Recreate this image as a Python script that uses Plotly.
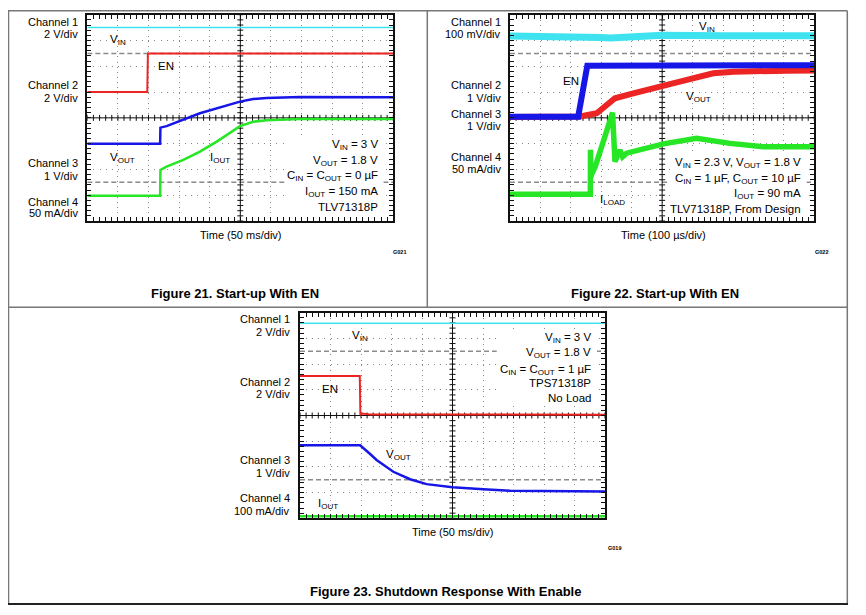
import numpy as np
import plotly.graph_objects as go

# page body margin is 8px: the figure div starts at (8, 8) in the window
OFF = 8
W, H = 866 - OFF, 615 - OFF
FONT = "Liberation Sans, Arial, sans-serif"

# ---------------- Figure 21: Start-up with EN (time in ms, traces in screen divisions) ----------------
f21_vin_t = [0, 500]
f21_vin = [7.5, 7.5]
f21_en_t = [0, 98, 99, 500]
f21_en = [5.0, 5.0, 6.5, 6.5]
f21_vout_t = [0, 119, 119.5, 129.5, 184, 211.5, 238.5, 249.5, 271, 293, 347.5, 500]
f21_vout = [3.0, 3.0, 3.62, 3.68, 4.18, 4.37, 4.56, 4.63, 4.73, 4.77, 4.81, 4.80]
f21_iout_t = [0, 119, 119.5, 129.5, 157, 184, 211.5, 238.5, 249.5, 271, 293, 347.5, 500]
f21_iout = [0.98, 0.98, 1.98, 2.11, 2.37, 2.69, 3.08, 3.53, 3.68, 3.85, 3.91, 3.96, 3.96]
f21_refs = [6.5, 1.5]

# ---------------- Figure 22: Start-up with EN (time in us) ----------------
f22_vin_t = [0, 250, 300, 330, 370, 420, 500, 700, 1000]
f22_vin = [7.17, 7.17, 7.12, 7.10, 7.12, 7.16, 7.20, 7.18, 7.18]
f22_en_t = [0, 224, 254, 1000]
f22_en = [4.04, 4.04, 6.02, 6.04]
f22_vout_t = [0, 230, 285, 318, 345, 405, 493, 581, 668, 734, 909, 1000]
f22_vout = [4.03, 4.05, 4.18, 4.46, 4.76, 4.95, 5.24, 5.47, 5.73, 5.79, 5.83, 5.84]
f22_iload_t = [0, 264, 264.5, 265.5, 268, 280, 290, 307, 337, 345, 361, 370, 383, 504, 613, 723, 832, 1000]
f22_iload = [1.04, 1.04, 2.76, 1.70, 1.80, 2.10, 2.50, 3.10, 4.20, 2.30, 2.75, 2.49, 2.63, 2.99, 3.21, 3.01, 2.88, 2.88]
f22_refs = [6.5, 1.5]

# ---------------- Figure 23: Shutdown response with enable (time in ms) ----------------
f23_vin_t = [0, 500]
f23_vin = [7.59, 7.59]
f23_en_t = [0, 98, 99, 102, 115, 500]
f23_en = [5.54, 5.54, 4.02, 4.08, 4.04, 4.03]
f23_vout_t = [0, 98.5, 115, 125.5, 153, 180.5, 207.5, 250, 300.5, 344.5, 500]
f23_vout = [2.84, 2.84, 2.50, 2.27, 1.81, 1.52, 1.33, 1.21, 1.13, 1.07, 1.04]
f23_iout_t = [0, 500]
f23_iout = [0.08, 0.08]
f23_refs = [6.5, 1.5]

CYAN, RED, BLUE, GREEN = "#3ee3ef", "#ec2424", "#1616e6", "#26e626"

# plot areas in window pixels
P = {
    1: dict(x0=87.3, x1=393.3, y0=14.7, y1=221.0, tmax=500),
    2: dict(x0=510.0, x1=814.3, y0=14.7, y1=221.0, tmax=1000),
    3: dict(x0=300.0, x1=605.0, y0=312.7, y1=518.3, tmax=500),
}


def px(x):
    return (x - OFF) / W


def py(y):
    return 1 - (y - OFF) / H


def dx(n, xp):
    p = P[n]
    return (xp - p["x0"]) / (p["x1"] - p["x0"]) * p["tmax"]


def dy(n, yp):
    p = P[n]
    return 8 * (p["y1"] - yp) / (p["y1"] - p["y0"])


fig = go.Figure()


def sfx(n):
    return "" if n == 1 else str(n)


def crosshair(n):
    p = P[n]
    tmax = p["tmax"]
    upx = (p["x1"] - p["x0"]) / tmax
    upy = (p["y1"] - p["y0"]) / 8
    hx, hy = 3 / upx, 3 / upy
    xs = [tmax / 2, tmax / 2, None, 0, tmax, None]
    ys = [0, 8, None, 4, 4, None]
    for t in np.arange(0, tmax + 1e-9, tmax / 50):
        xs += [t, t, None]
        ys += [4 - hy, 4 + hy, None]
    for v in np.arange(0, 8 + 1e-9, 0.2):
        xs += [tmax / 2 - hx, tmax / 2 + hx, None]
        ys += [v, v, None]
    fig.add_trace(go.Scatter(x=xs, y=ys, mode="lines", line=dict(color="#111", width=1),
                             xaxis="x" + sfx(n), yaxis="y" + sfx(n), hoverinfo="skip"))


def trace(n, t, v, color, width):
    fig.add_trace(go.Scatter(x=t, y=v, mode="lines", line=dict(color=color, width=width),
                             xaxis="x" + sfx(n), yaxis="y" + sfx(n)))


for n in (1, 2, 3):
    crosshair(n)

trace(1, f21_vin_t, f21_vin, CYAN, 1.5)
trace(1, f21_en_t, f21_en, RED, 2)
trace(1, f21_vout_t, f21_vout, BLUE, 2.5)
trace(1, f21_iout_t, f21_iout, GREEN, 2.5)

trace(2, f22_vin_t, f22_vin, CYAN, 7)
trace(2, f22_vout_t, f22_vout, RED, 6)
trace(2, f22_en_t, f22_en, BLUE, 6)
trace(2, f22_iload_t, f22_iload, GREEN, 5.5)

trace(3, f23_vin_t, f23_vin, CYAN, 1.5)
trace(3, f23_en_t, f23_en, RED, 2)
trace(3, f23_vout_t, f23_vout, BLUE, 2.5)
trace(3, f23_iout_t, f23_iout, GREEN, 2.5)

# ---------------- axes ----------------
layout_axes = {}
for n, p in P.items():
    s = sfx(n)
    tmax = p["tmax"]
    common = dict(showline=True, linecolor="#111", linewidth=2, mirror="ticks",
                  ticks="inside", ticklen=4, tickcolor="#111", tickwidth=1,
                  showticklabels=False, zeroline=False, showgrid=True,
                  gridcolor="#8a8a8a", gridwidth=1, fixedrange=True)
    layout_axes["xaxis" + s] = dict(common, domain=[px(p["x0"]), px(p["x1"])], range=[0, tmax],
                                    dtick=tmax / 10, tick0=0, anchor="y" + s, griddash="1px,4.2px",
                                    minor=dict(dtick=tmax / 50, tick0=0, ticks="inside", ticklen=4,
                                               tickcolor="#111", showgrid=False))
    layout_axes["yaxis" + s] = dict(common, domain=[py(p["y1"]), py(p["y0"])], range=[0, 8],
                                    dtick=1, tick0=0, anchor="x" + s, griddash="1px,5.1px",
                                    minor=dict(dtick=0.2, tick0=0, ticks="inside", ticklen=4,
                                               tickcolor="#111", showgrid=False))

shapes = []


def dashed(n, level):
    s = sfx(n)
    shapes.append(dict(type="line", xref="x" + s, yref="y" + s, x0=0, x1=P[n]["tmax"], y0=level, y1=level,
                       line=dict(color="#8c8c8c", width=1.5, dash="5px,3px"), layer="between"))


def whitebox(n, xa, xb, ya, yb):
    s = sfx(n)
    shapes.append(dict(type="rect", xref="x" + s, yref="y" + s, x0=dx(n, xa), x1=dx(n, xb),
                       y0=dy(n, yb), y1=dy(n, ya), fillcolor="white", line=dict(width=0), layer="between"))


for lv in f21_refs:
    dashed(1, lv)
for lv in f22_refs:
    dashed(2, lv)
for lv in f23_refs:
    dashed(3, lv)
whitebox(1, 286.7, 383.3, 136.5, 214.0)
whitebox(2, 670.0, 806.7, 154.0, 215.5)
whitebox(3, 496.7, 597.0, 329.5, 405.0)

# page frame


def pline(xa, ya, xb, yb, color="#777", width=1.5):
    shapes.append(dict(type="line", xref="paper", yref="paper", x0=px(xa), x1=px(xb), y0=py(ya), y1=py(yb),
                       line=dict(color=color, width=width), layer="above"))


pline(8, 10.7, 847.3, 10.7)
pline(8.5, 10.7, 8.5, 604)
pline(847.3, 10.7, 847.3, 604)
pline(427.3, 10.7, 427.3, 307.3)
pline(8, 307.3, 847.3, 307.3)
pline(8, 604, 848, 604, color="#222", width=2)

# ---------------- annotations ----------------
anns = []


def ann(text, x, y, size=11, xanchor="center", bold=False, color="#000"):
    if bold:
        text = "<b>" + text + "</b>"
    anns.append(dict(text=text, x=px(x), y=py(y), xref="paper", yref="paper", xanchor=xanchor,
                     yanchor="middle", showarrow=False, font=dict(family=FONT, size=size, color=color)))


# channel labels
for txt, x, y in [
    ("Channel 1", 80, 21.7), ("2 V/div", 80, 34.3), ("Channel 2", 80, 85), ("2 V/div", 80, 97.7),
    ("Channel 3", 80, 163.3), ("1 V/div", 80, 175.7), ("Channel 4", 80, 201.7), ("50 mA/div", 80, 213.3),
    ("Channel 1", 502.7, 22.3), ("100 mV/div", 502.7, 34.3), ("Channel 2", 502.7, 85), ("1 V/div", 502.7, 97.7),
    ("Channel 3", 502.7, 114), ("1 V/div", 502.7, 126), ("Channel 4", 502.7, 156.7), ("50 mA/div", 502.7, 169.3),
    ("Channel 1", 291.7, 319), ("2 V/div", 291.7, 332.3), ("Channel 2", 291.7, 381.7), ("2 V/div", 291.7, 394.3),
    ("Channel 3", 291.7, 460), ("1 V/div", 291.7, 472.7), ("Channel 4", 291.7, 498.3), ("100 mA/div", 291.7, 511),
]:
    ann(txt, x, y, xanchor="right")

# signal labels
for txt, x, y in [
    ("V<sub>IN</sub>", 118, 40), ("EN", 166, 66), ("V<sub>OUT</sub>", 122, 158), ("I<sub>OUT</sub>", 220, 158),
    ("V<sub>IN</sub>", 707, 27), ("EN", 571, 81), ("V<sub>OUT</sub>", 698, 97), ("I<sub>LOAD</sub>", 612, 200),
    ("V<sub>IN</sub>", 360, 336), ("EN", 330, 389.3), ("V<sub>OUT</sub>", 398, 455), ("I<sub>OUT</sub>", 328, 504),
]:
    ann(txt, x, y, size=11.5)

# condition text blocks (right aligned)
for txt, x, y in [
    ("V<sub>IN</sub> = 3 V", 380, 145), ("V<sub>OUT</sub> = 1.8 V", 380, 160.5),
    ("C<sub>IN</sub> = C<sub>OUT</sub> = 0 µF", 380, 176), ("I<sub>OUT</sub> = 150 mA", 380, 192), ("TLV71318P", 380, 207),
    ("V<sub>IN</sub> = 2.3 V, V<sub>OUT</sub> = 1.8 V", 802.7, 163.3), ("C<sub>IN</sub> = 1 µF, C<sub>OUT</sub> = 10 µF", 802.7, 179),
    ("I<sub>OUT</sub> = 90 mA", 802.7, 194), ("TLV71318P, From Design", 802.7, 209),
    ("V<sub>IN</sub> = 3 V", 593.3, 337.5), ("V<sub>OUT</sub> = 1.8 V", 593.3, 353), ("C<sub>IN</sub> = C<sub>OUT</sub> = 1 µF", 593.3, 369.5),
    ("TPS71318P", 593.3, 383.3), ("No Load", 593.3, 397.7),
]:
    ann(txt, x, y, size=11.5, xanchor="right")

# time axis titles
ann("Time (50 ms/div)", 240.5, 235)
ann("Time (100 µs/div)", 663.3, 235)
ann("Time (50 ms/div)", 452.7, 531.7)

# graph ids
ann("G021", 399, 252, size=5.5, bold=True)
ann("G022", 821, 251.7, size=5.5, bold=True)
ann("G019", 614.3, 548.3, size=5.5, bold=True)

# captions
ann("Figure 21. Start-up With EN", 235, 294, size=13, bold=True)
ann("Figure 22. Start-up With EN", 655, 294, size=13, bold=True)
ann("Figure 23. Shutdown Response With Enable", 445, 591, size=13, bold=True)
ann("Figure 20. V<sub>IN</sub> Power-Up and Power-Down", 655, -3.5, size=13, bold=True)
ann("Figure 19.", 94.5, -5.2, size=13, bold=True, xanchor="left")

fig.update_layout(
    width=W, height=H, margin=dict(l=0, r=0, t=0, b=0),
    paper_bgcolor="white", plot_bgcolor="white", showlegend=False,
    shapes=shapes, annotations=anns, font=dict(family=FONT, color="#000"),
    **layout_axes,
)

fig.write_html("out.html")
